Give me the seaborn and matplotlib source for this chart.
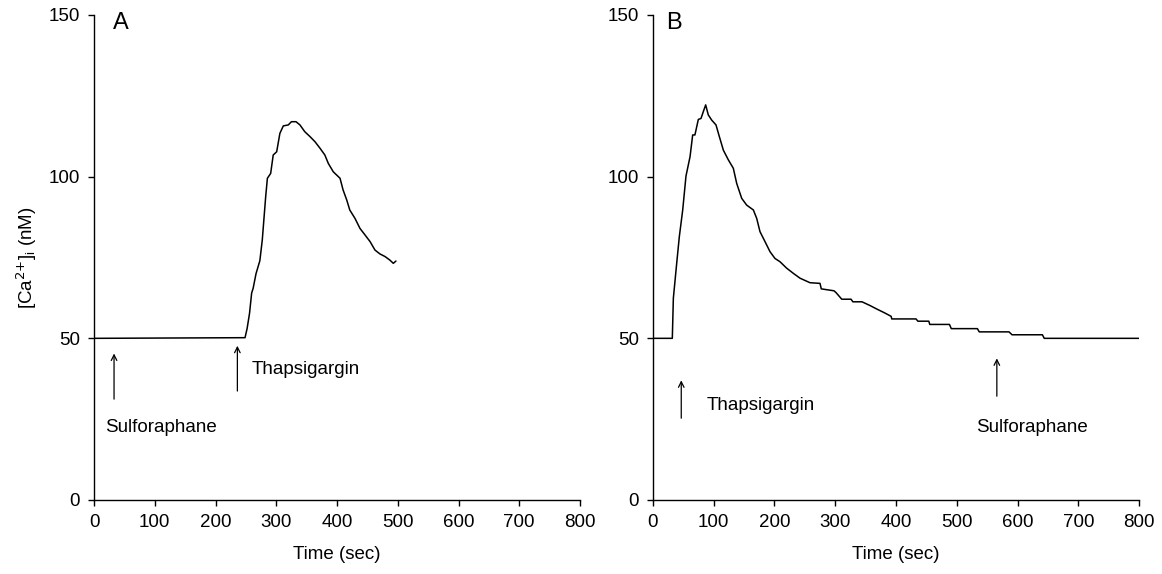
import numpy as np
import pandas as pd
import seaborn as sns
import matplotlib
matplotlib.use("Agg")
from matplotlib import pyplot as plt

# Panel A: sulforaphane first, thapsigargin later
time_a = [0, 248.6, 252, 256, 259.5, 262, 266.7, 273, 277, 280, 282.6, 285.4, 290.8,
          295, 300.7, 306, 311.6, 319.8, 325, 332.5, 339, 347, 355.5, 363.8, 372, 380,
          385.7, 393.9, 405, 410, 416, 421, 429.6, 437.8, 446, 454.5, 462.5, 470.7,
          479, 487, 492.7, 497]
ca_a = [50, 50.2, 53, 57.7, 64, 65.5, 70, 74, 80.4, 87.6, 93.8, 99.5, 101,
        106.7, 107.7, 113.4, 115.7, 116, 117, 117, 116, 113.9, 112.4, 110.8, 108.8, 106.7,
        104.1, 101.5, 99.5, 95.9, 92.8, 89.7, 87.1, 84, 82, 79.9, 77.3, 76.1,
        75.3, 74.2, 73.2, 73.9]

# Panel B: thapsigargin first, sulforaphane later
time_b = [0, 31.8, 33.5, 39, 43.3, 48.9, 54.3, 61, 65.3, 69, 74.6, 79, 82.8, 86.7,
          91, 96.6, 103.7, 109.2, 115.8, 124, 132.2, 137.8, 146, 154.2, 165.2, 170.7,
          176.1, 184.4, 192.6, 200.8, 209, 220, 231, 242, 258.4, 274.9, 277, 298,
          301.5, 310.7, 326, 329, 344, 356.6, 369, 381, 392, 393, 433, 436, 454,
          455.6, 488, 491, 534, 537, 586, 591, 641, 644, 800]
ca_b = [50, 50, 62.4, 73.2, 81.4, 89.7, 100.2, 106.2, 112.9, 112.9, 117.7, 118, 120.1, 122.2,
        119.1, 117.5, 116, 112.4, 108.2, 105.2, 102.6, 97.9, 93.3, 91.2, 89.7, 87.1,
        83, 79.9, 76.8, 74.7, 73.7, 71.7, 70.1, 68.6, 67.2, 67, 65.3, 64.7,
        64.1, 62.1, 62.1, 61.3, 61.3, 60.2, 59, 57.9, 56.8, 56, 56, 55.3, 55.3,
        54.3, 54.3, 53, 53, 52, 52, 51.1, 51.1, 50, 50]

x_ticks = [0, 100, 200, 300, 400, 500, 600, 700, 800]
y_ticks = [0, 50, 100, 150]

sns.set_theme(style="ticks")
plt.rcParams['font.family'] = ['Liberation Sans', 'DejaVu Sans']
plt.rcParams['mathtext.default'] = 'regular'
plt.rcParams['text.color'] = 'black'
plt.rcParams['axes.labelcolor'] = 'black'
plt.rcParams['xtick.major.size'] = 4
plt.rcParams['ytick.major.size'] = 4
plt.rcParams['axes.linewidth'] = 1.0

fig = plt.figure(figsize=(11.62, 5.74), dpi=100)
ax_a = fig.add_axes([94 / 1162, 74 / 574, 486 / 1162, 485 / 574])
ax_b = fig.add_axes([653 / 1162, 74 / 574, 486 / 1162, 485 / 574])

FS = 13.5


def draw_panel(ax, t, ca, letter, letter_x, notes):
    df = pd.DataFrame({"t": t, "ca": ca})
    sns.lineplot(data=df, x="t", y="ca", ax=ax, color="black", lw=1.1,
                 estimator=None, sort=False)
    ax.set_xlim(0, 800)
    ax.set_ylim(0, 150)
    ax.set_xticks(x_ticks)
    ax.set_yticks(y_ticks)
    ax.tick_params(labelsize=FS, color="black", labelcolor="black", width=1.0)
    ax.tick_params(axis="x", pad=6)
    ax.tick_params(axis="y", pad=6)
    ax.set_xlabel("Time (sec)", fontsize=FS, labelpad=11)
    ax.set_ylabel("")
    for sp in ax.spines.values():
        sp.set_color("black")
    sns.despine(ax=ax)
    ax.text(letter_x, 147.5, letter, fontsize=17, va="center", ha="left")
    for (ax_x, head, tail, label, lx, ly) in notes:
        ax.annotate("", xy=(ax_x, head), xytext=(ax_x, tail),
                    arrowprops=dict(arrowstyle="->", lw=0.9, color="black",
                                    shrinkA=0, shrinkB=0, mutation_scale=10))
        ax.text(lx, ly, label, fontsize=FS, va="center", ha="left")


draw_panel(ax_a, time_a, ca_a, "A", 31,
           [(33, 45.3, 31.2, "Sulforaphane", 19, 22.4),
            (236, 47.7, 33.7, "Thapsigargin", 259, 40.3)])
draw_panel(ax_b, time_b, ca_b, "B", 21,
           [(46.5, 37, 25.3, "Thapsigargin", 89, 29.3),
            (566, 43.8, 32.1, "Sulforaphane", 532, 22.3)])

ax_a.set_ylabel(r"[Ca$^{\text{2+}}$]$_i$ (nM)", fontsize=FS, labelpad=7)

fig.savefig("out.png", dpi=100)
